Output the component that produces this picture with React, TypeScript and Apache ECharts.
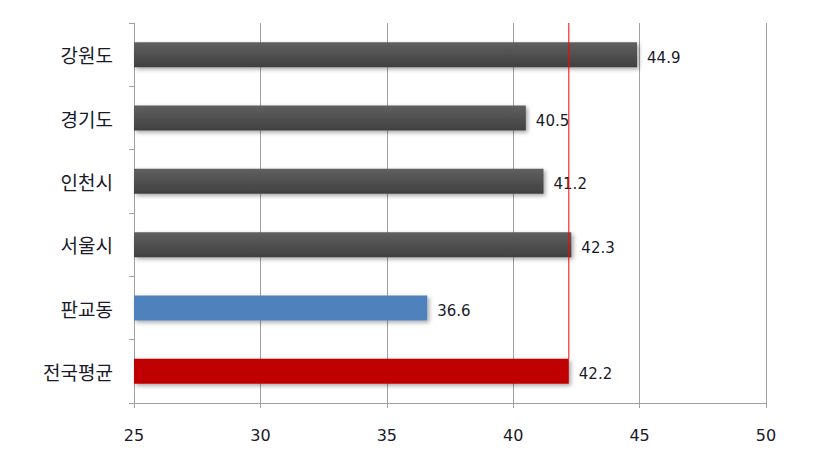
import React, { useEffect, useRef } from "react";
import * as echarts from "echarts";

const categories = ["전국평균", "판교동", "서울시", "인천시", "경기도", "강원도"];
const values = [42.2, 36.6, 42.3, 41.2, 40.5, 44.9];
const nationalAverage = 42.2;
const xTicks = { min: 25, max: 50, interval: 5 };

const FONT = "'Noto Sans CJK KR', 'Noto Sans', sans-serif";
const NUM_FONT = "'DejaVu Sans', 'Noto Sans', sans-serif";
const BAR_WIDTH = 25;

export default function App() {
  const ref = useRef<HTMLDivElement>(null);
  useEffect(() => {
    if (!ref.current) return;
    const chart = echarts.init(ref.current, undefined, { renderer: "svg" });
    const grid = { left: 134, right: 74, top: 23, bottom: 69 };
    const plotH = 472 - grid.top - grid.bottom;
    const catH = plotH / categories.length;
    const barHalfUnits = BAR_WIDTH / 2 / catH;

    const gray = new echarts.graphic.LinearGradient(0, 0, 0, 1, [
      { offset: 0, color: "#606060" },
      { offset: 1, color: "#404040" },
    ]);
    const colorFor = (i: number) => {
      if (categories[i] === "전국평균") return "#c00000";
      if (categories[i] === "판교동") return "#4f81bd";
      return gray;
    };

    chart.setOption({
      animation: false,
      grid,
      xAxis: [
        {
          type: "value",
          min: xTicks.min,
          max: xTicks.max,
          interval: xTicks.interval,
          axisLine: { show: true, lineStyle: { color: "#a0a0a0", width: 1 } },
          axisTick: { show: true, length: 5, lineStyle: { color: "#a0a0a0" } },
          splitLine: { show: true, lineStyle: { color: "#a0a0a0", width: 1 } },
          axisLabel: { color: "#1a1a2a", fontSize: 16, fontFamily: NUM_FONT, margin: 24 },
        },
      ],
      yAxis: [
        {
          type: "category",
          data: categories,
          axisLine: { show: true, lineStyle: { color: "#a0a0a0" } },
          axisTick: { show: true, length: 5, alignWithLabel: false, lineStyle: { color: "#a0a0a0" } },
          axisLabel: {
            color: "#1a1a2a",
            fontSize: 19,
            fontFamily: FONT,
            margin: 21,
            padding: [4, 0, 0, 0],
          },
          splitLine: { show: false },
        },
        {
          type: "value",
          min: 0,
          max: categories.length,
          show: false,
        },
      ],
      series: [
        {
          type: "bar",
          barWidth: BAR_WIDTH,
          data: values.map((v, i) => ({
            value: v,
            itemStyle: {
              color: colorFor(i),
              shadowColor: "rgba(0,0,0,0.35)",
              shadowBlur: 4,
              shadowOffsetX: 2,
              shadowOffsetY: 2,
            },
          })),
          label: {
            show: true,
            position: "right",
            distance: 10,
            offset: [0, 3],
            color: "#1a1a2a",
            fontSize: 15,
            fontFamily: NUM_FONT,
            formatter: (p: any) => Number(p.value).toFixed(1),
          },
          z: 2,
        },
        {
          type: "line",
          yAxisIndex: 1,
          data: [
            [nationalAverage, 0.5 + barHalfUnits],
            [nationalAverage, categories.length],
          ],
          symbol: "none",
          lineStyle: { color: "#ff0000", width: 1 },
          z: 3,
          silent: true,
        },
      ],
    });
    return () => chart.dispose();
  }, []);
  return (
    <div
      ref={ref}
      style={{ position: "fixed", left: 0, top: 0, width: 840, height: 472, background: "#fff" }}
    />
  );
}
